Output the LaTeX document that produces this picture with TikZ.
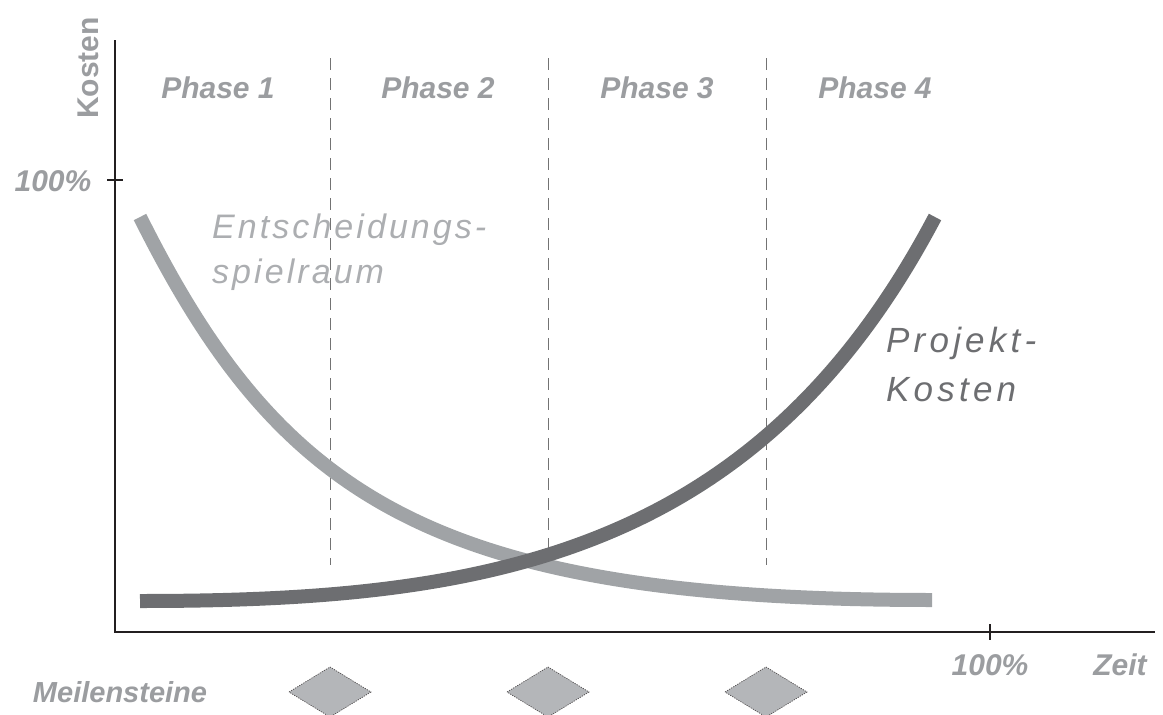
\documentclass[tikz,border=0pt]{standalone}
\usepackage{fontspec}
\setmainfont{Liberation Sans}
\newfontfamily\wideA[LetterSpace=9]{Liberation Sans}
\newfontfamily\wideB[LetterSpace=12]{Liberation Sans}
\definecolor{txtgray}{RGB}{155,157,160}
\definecolor{lightgray}{RGB}{160,163,166}
\definecolor{palegray}{RGB}{172,174,177}
\definecolor{darkgray}{RGB}{109,110,113}
\definecolor{axisgray}{RGB}{35,31,32}
\definecolor{stonegray}{RGB}{180,182,185}
\begin{document}
\begin{tikzpicture}[x=1pt,y=-1pt,
    lbl/.style={inner sep=0pt,text=txtgray,font=\bfseries\itshape\fontsize{30}{30}\selectfont},
    stone/.style={fill=stonegray,draw=axisgray!80,line width=0.7pt,dash pattern=on 1.2pt off 1.2pt}]
      \useasboundingbox (0,0) rectangle (1163,715);
      % axes
      \draw[axisgray,line width=1.6pt] (115,40) -- (115,632) -- (1155,632);
      \draw[axisgray,line width=1.4pt] (107,180) -- (123,180);
      \draw[axisgray,line width=1.4pt] (990,624) -- (990,640);
      % phase borders
      \foreach \p in {330,548,766}
        \draw[gray!90!black,line width=0.9pt,dash pattern=on 12pt off 8pt] (\p,58) -- (\p,565);
      % Entscheidungsspielraum
      \draw[lightgray,line width=14pt] (140,217) .. controls (280,497) and (432,600) .. (932,600);
      % Projektkosten
      \draw[darkgray,line width=14pt] (140,601) .. controls (480,601) and (755,559) .. (935,217);
      % milestones
      \foreach \m in {330,548,766}
        \draw[stone] (\m-41,692) -- (\m,667) -- (\m+41,692) -- (\m,717) -- cycle;
      % labels
      \node[lbl,rotate=90,font=\bfseries\fontsize{30}{30}\selectfont] (kosten) at (88,68) {Kosten};
      \node[lbl] (ph1) at (218,88) {Phase 1};
      \node[lbl] (ph2) at (438,88) {Phase 2};
      \node[lbl] (ph3) at (657,88) {Phase 3};
      \node[lbl] (ph4) at (875,88) {Phase 4};
      \node[lbl] (ymax) at (53,181) {100\%};
      \node[lbl] (xmax) at (990,665) {100\%};
      \node[lbl] (zeit) at (1120,665) {Zeit};
      \node[lbl,font=\bfseries\itshape\fontsize{29}{29}\selectfont] (meilen) at (120,692) {Meilensteine};
      \node[inner sep=0pt,anchor=north west,align=left,text=palegray,
        font=\wideA\itshape\fontsize{34}{45}\selectfont] (spielraum) at (212,214)
        {Entscheidungs-\\spielraum};
      \node[inner sep=0pt,anchor=north west,align=left,text=darkgray,
        font=\wideB\itshape\fontsize{35}{49}\selectfont] (projekt) at (886,327)
        {Projekt-\\Kosten};
\end{tikzpicture}
\end{document}
